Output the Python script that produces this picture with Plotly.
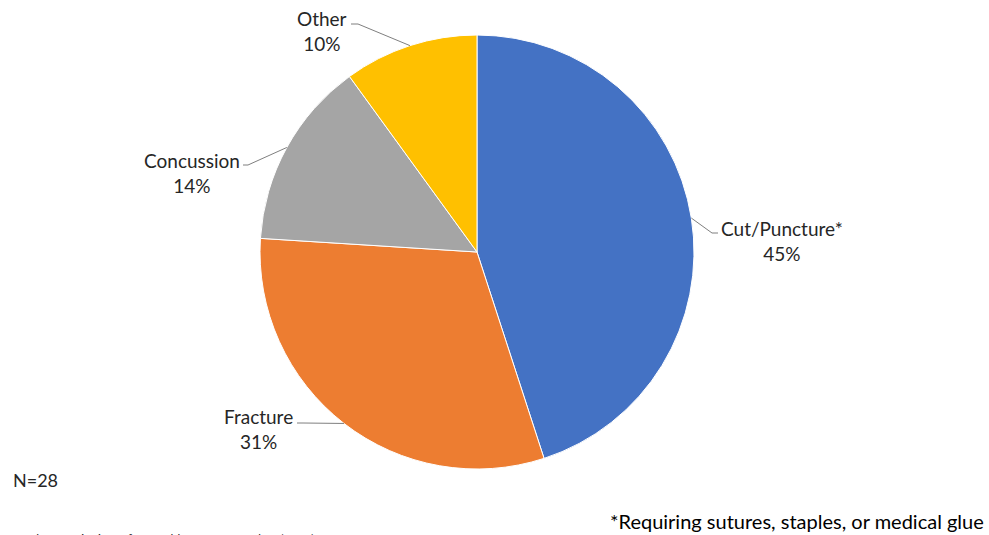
import math
import plotly.graph_objects as go

# ---- data ----
categories = ["Cut/Puncture*", "Fracture", "Concussion", "Other"]
percent_values = [45, 31, 14, 10]
slice_colors = ["#4472C4", "#ED7D31", "#A5A5A5", "#FFC000"]
note_n = "N=28"
note_footnote = "*Requiring sutures, staples, or medical glue"
note_source = "Local State District Office Health Department data (2018)"

W, H = 989, 535
CX, CY, R = 477, 252, 217  # pie geometry in pixels (layout)
FONT = "Lato, Open Sans, sans-serif"

def px(x):
    return x / W

def py(y):
    return 1 - y / H

fig = go.Figure(go.Pie(
    labels=categories,
    values=percent_values,
    marker=dict(colors=slice_colors, line=dict(color="white", width=1)),
    sort=False,
    direction="clockwise",
    rotation=0,
    textinfo="none",
    hoverinfo="label+percent",
    showlegend=False,
    domain=dict(x=[px(CX - R), px(CX + R)], y=[py(CY + R), py(CY - R)]),
))

# label text positions (layout) and leader-line elbow points
label_pos = {
    "Cut/Puncture*": dict(tx=782, ty=241, elbow=(712, 233), end=(718, 233)),
    "Fracture": dict(tx=258, ty=429, elbow=(303, 423), end=(297, 423)),
    "Concussion": dict(tx=192, ty=173, elbow=(248, 165), end=(243, 165)),
    "Other": dict(tx=322, ty=31, elbow=(358, 24), end=(351, 24)),
}

total = sum(percent_values)
cum = 0
shapes = []
annotations = []
for cat, val in zip(categories, percent_values):
    mid = (cum + val / 2) / total * 2 * math.pi
    cum += val
    ex = CX + R * math.sin(mid)
    ey = CY - R * math.cos(mid)
    lp = label_pos[cat]
    pts = [(ex, ey), lp["elbow"], lp["end"]]
    path = "M " + " L ".join(f"{px(x)},{py(y)}" for x, y in pts)
    shapes.append(dict(type="path", xref="paper", yref="paper", path=path,
                       line=dict(color="#7F7F7F", width=1)))
    pct = round(val / total * 100)
    annotations.append(dict(
        x=px(lp["tx"]), y=py(lp["ty"]), xref="paper", yref="paper",
        text=f"{cat}<br>{pct}%", showarrow=False, align="center",
        xanchor="center", yanchor="middle",
        font=dict(size=19, color="#262626", family=FONT),
    ))

annotations.append(dict(x=px(11), y=py(480), xref="paper", yref="paper", text=note_n,
                        showarrow=False, xanchor="left", yanchor="middle",
                        font=dict(size=18, color="#262626", family=FONT)))
annotations.append(dict(x=px(986), y=py(521), xref="paper", yref="paper", text=note_footnote,
                        showarrow=False, xanchor="right", yanchor="middle",
                        font=dict(size=20, color="#000000", family=FONT)))
annotations.append(dict(x=px(10), y=py(529), xref="paper", yref="paper", text=note_source,
                        showarrow=False, xanchor="left", yanchor="top",
                        font=dict(size=12, color="#262626", family=FONT)))

fig.update_layout(
    width=W, height=H,
    margin=dict(l=0, r=0, t=0, b=0),
    paper_bgcolor="white", plot_bgcolor="white",
    shapes=shapes, annotations=annotations,
)

fig.write_html("out.html", config={"displayModeBar": False})

# remove default page margin so the figure sits at the window's top-left corner
with open("out.html", encoding="utf-8") as f:
    html = f.read()
html = html.replace("<body>", '<body style="margin:0;padding:0;overflow:hidden">', 1)
with open("out.html", "w", encoding="utf-8") as f:
    f.write(html)
